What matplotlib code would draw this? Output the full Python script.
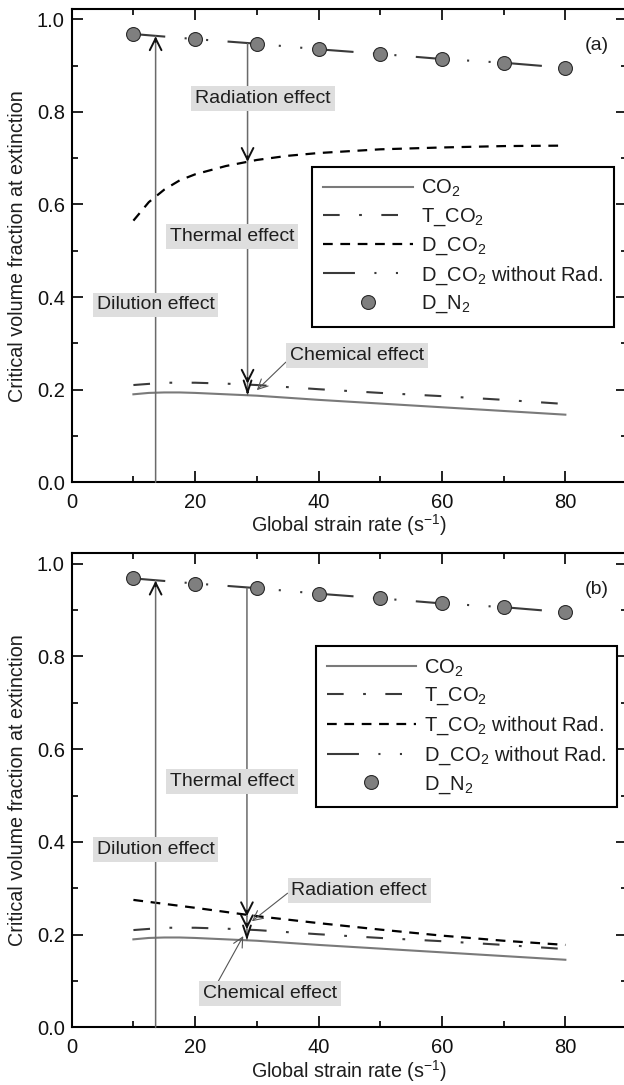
import numpy as np
import matplotlib
matplotlib.use("Agg")
import matplotlib.pyplot as plt
from matplotlib.ticker import MultipleLocator, FormatStrFormatter

plt.rcParams['font.family'] = ['Liberation Sans', 'DejaVu Sans']
plt.rcParams['font.size'] = 14
plt.rcParams['lines.scale_dashes'] = False

# strain rates (1/s)
x_n2 = [10, 20, 30, 40, 50, 60, 70, 80]
y_n2 = [0.968, 0.957, 0.947, 0.935, 0.925, 0.914, 0.906, 0.895]

x_co2 = [10, 12.5, 15, 17.5, 20, 25, 30, 40, 50, 60, 70, 80]
y_co2 = [0.190, 0.193, 0.194, 0.194, 0.193, 0.190, 0.187, 0.178, 0.170, 0.162, 0.154, 0.146]

x_tco2 = [10, 15, 20, 25, 30, 40, 50, 60, 70, 80]
y_tco2 = [0.210, 0.215, 0.215, 0.213, 0.210, 0.201, 0.193, 0.186, 0.178, 0.169]

x_dco2 = [10, 12.5, 15, 17.5, 20, 25, 30, 35, 40, 50, 60, 70, 80]
y_dco2 = [0.565, 0.605, 0.632, 0.652, 0.665, 0.683, 0.696, 0.705, 0.711, 0.719, 0.723, 0.726, 0.727]

x_tco2_norad = [10, 20, 30, 40, 50, 60, 70, 80]
y_tco2_norad = [0.275, 0.258, 0.240, 0.225, 0.211, 0.198, 0.187, 0.178]

# effect arrows: x, start, end
dil_arrow = (13.6, 0.0, 0.963)
arrows_a = [(28.5, 0.947, 0.692), (28.5, 0.692, 0.213), (28.5, 0.213, 0.188)]
arrows_b = [(28.4, 0.947, 0.240), (28.4, 0.240, 0.212), (28.4, 0.212, 0.188)]

DASHDOT = (0, (12, 14, 2, 14))
DASH = (0, (7, 5.5))
NORAD = (0, (23, 14, 1.5, 14, 1.5, 14))

box = dict(boxstyle='square,pad=0.2', fc='#dedede', ec='none')
TXT = '#1e1e1e'


def effect_arrow(ax, x, y0, y1, hw=0.3):
    ax.annotate('', xy=(x, y1), xytext=(x, y0),
                arrowprops=dict(arrowstyle='-', color='#6a6a6a', lw=1.1,
                                shrinkA=0, shrinkB=0))
    ax.annotate('', xy=(x, y1), xytext=(x, y1 + 0.012 * np.sign(y0 - y1)),
                arrowprops=dict(arrowstyle=f'->,head_length=0.6,head_width={hw}',
                                color='#111111', lw=1.4, shrinkA=0, shrinkB=0))


def pointer(ax, text, xy, xytext, rel):
    ax.annotate(text, xy=xy, xytext=xytext, ha='center', va='center', bbox=box,
                color=TXT, zorder=6,
                arrowprops=dict(arrowstyle='->,head_length=0.5,head_width=0.25',
                                color='#555555', lw=0.8, shrinkA=0, shrinkB=0,
                                relpos=rel))


def base(ax, third_x, third_y, third_label):
    ax.plot(x_co2, y_co2, color='#7a7a7a', lw=1.5, label=r'CO$\mathregular{_2}$')
    ax.plot(x_tco2, y_tco2, color='#3a3a3a', lw=1.5, ls=DASHDOT,
            label=r'T_CO$\mathregular{_2}$')
    ax.plot(third_x, third_y, color='black', lw=1.6, ls=DASH, label=third_label)
    ax.plot(x_n2, y_n2, color='#3a3a3a', lw=1.5, ls=NORAD,
            label=r'D_CO$\mathregular{_2}$ without Rad.')
    ax.plot(x_n2, y_n2, 'o', ms=10, mfc='#7f7f7f', mec='#2a2a2a', mew=0.8, ls='none',
            label=r'D_N$\mathregular{_2}$', zorder=5)

    ax.set_xlim(0, 90)
    ax.set_ylim(0, 1.022)
    ax.xaxis.set_major_locator(MultipleLocator(20))
    ax.xaxis.set_minor_locator(MultipleLocator(10))
    ax.yaxis.set_major_locator(MultipleLocator(0.2))
    ax.yaxis.set_minor_locator(MultipleLocator(0.1))
    ax.yaxis.set_major_formatter(FormatStrFormatter('%.1f'))
    ax.tick_params(which='both', direction='in', top=True, right=True, width=1.3,
                   labelsize=14.5, colors='#111111')
    ax.tick_params(axis='x', pad=7.5)
    ax.tick_params(axis='y', pad=5)
    ax.tick_params(which='major', length=8)
    ax.tick_params(which='minor', length=4.5)
    for s in ax.spines.values():
        s.set_linewidth(1.5)
    ax.set_xlabel(r'Global strain rate (s$\mathregular{^{-1}}$)', labelpad=0.5,
                  color=TXT, fontsize=14.2)
    ax.set_ylabel('Critical volume fraction at extinction', labelpad=7,
                  color=TXT, fontsize=14.2)

    d = dil_arrow
    effect_arrow(ax, d[0], d[1], d[2])
    ax.text(d[0], 0.383, 'Dilution effect', ha='center', va='center', bbox=box,
            color=TXT, zorder=6)


def add_legend(ax, anchor):
    leg = ax.legend(loc='upper left', bbox_to_anchor=anchor, frameon=True,
                    fancybox=False, edgecolor='black', framealpha=1,
                    handlelength=4.45, handletextpad=0.4, borderpad=0.55,
                    labelspacing=0.36, borderaxespad=0, fontsize=14.5)
    leg.get_frame().set_linewidth(1.5)
    for t in leg.get_texts():
        t.set_color(TXT)


fig = plt.figure(figsize=(6.24, 10.85), dpi=100)
ax1 = fig.add_axes([0.1149, 0.5555, 0.890, 0.4362])
ax2 = fig.add_axes([0.1149, 0.0530, 0.890, 0.4370])

# (a)
base(ax1, x_dco2, y_dco2, r'D_CO$\mathregular{_2}$')
for k, (x, y0, y1) in enumerate(arrows_a):
    effect_arrow(ax1, x, y0, y1, hw=0.3 if k < 2 else 0.2)
ax1.text(31.0, 0.828, 'Radiation effect', ha='center', va='center', bbox=box,
         color=TXT, zorder=6)
ax1.text(26.0, 0.531, 'Thermal effect', ha='center', va='center', bbox=box,
         color=TXT, zorder=6)
pointer(ax1, 'Chemical effect', (30.0, 0.199), (46.2, 0.273), (0, 0.35))
ax1.text(85.1, 0.944, '(a)', ha='center', va='center', color=TXT)
add_legend(ax1, (0.433, 0.666))

# (b)
base(ax2, x_tco2_norad, y_tco2_norad, r'T_CO$\mathregular{_2}$ without Rad.')
for k, (x, y0, y1) in enumerate(arrows_b):
    effect_arrow(ax2, x, y0, y1, hw=0.3 if k < 2 else 0.2)
ax2.text(26.0, 0.531, 'Thermal effect', ha='center', va='center', bbox=box,
         color=TXT, zorder=6)
pointer(ax2, 'Radiation effect', (29.2, 0.229), (46.6, 0.296), (0, 0.5))
pointer(ax2, 'Chemical effect', (27.8, 0.197), (32.1, 0.073), (0.1, 1))
ax2.text(85.1, 0.944, '(b)', ha='center', va='center', color=TXT)
add_legend(ax2, (0.439, 0.804))

fig.savefig('out.png', dpi=100)
